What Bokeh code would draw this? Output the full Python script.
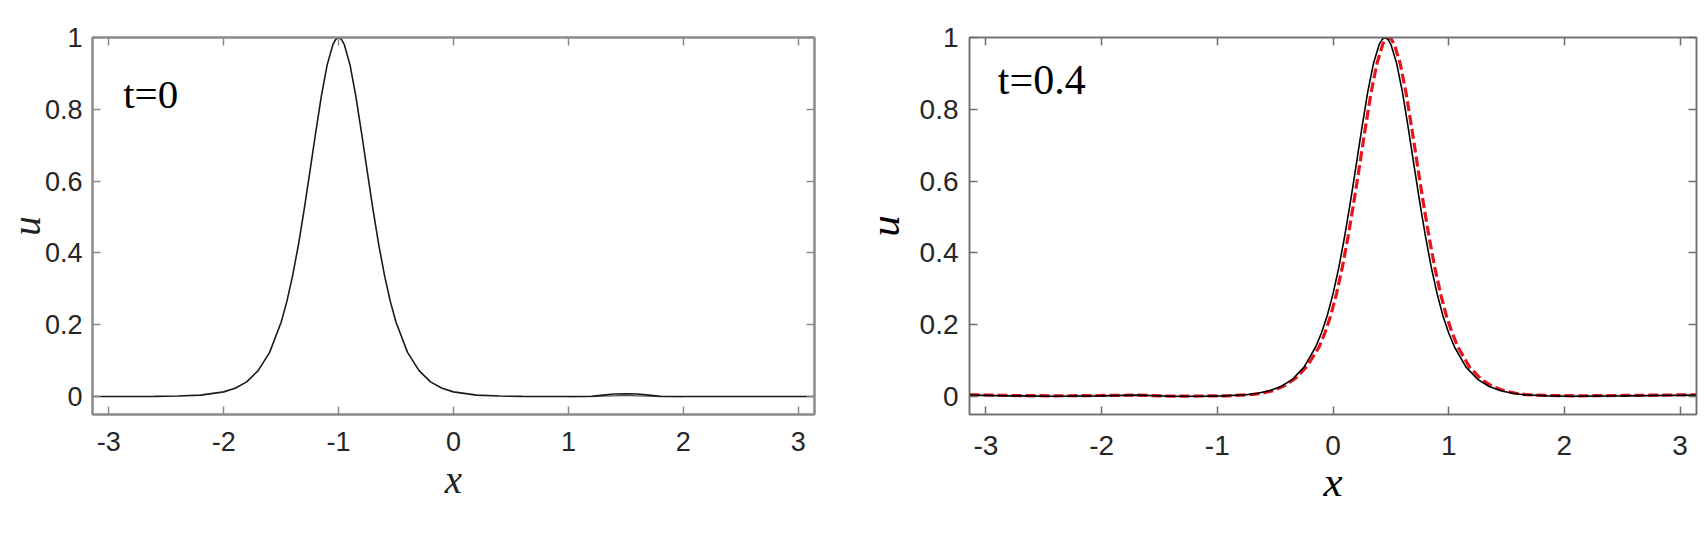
from bokeh.plotting import figure
from bokeh.models import LinearAxis, FixedTicker, Label, Range1d
from bokeh.layouts import row
from bokeh.embed import file_html
from bokeh.resources import INLINE

# ---------------- data ----------------
x_ticks = [-3, -2, -1, 0, 1, 2, 3]
x_tick_labels = ["-3", "-2", "-1", "0", "1", "2", "3"]
y_ticks = [0, 0.2, 0.4, 0.6, 0.8, 1.0]
y_tick_labels = ["0", "0.2", "0.4", "0.6", "0.8", "1"]

# left panel, t = 0
x_t0 = [-3.1416, -2.6, -2.4, -2.2, -2.0, -1.9, -1.8, -1.7, -1.6, -1.5, -1.45, -1.4,
        -1.35, -1.3, -1.25, -1.2, -1.15, -1.1, -1.05, -1.025, -1.0, -0.975, -0.95, -0.9,
        -0.85, -0.8, -0.75, -0.7, -0.65, -0.6, -0.55, -0.5, -0.4, -0.3, -0.2, -0.1, 0.0,
        0.2, 0.4, 0.6, 0.8, 1.0, 1.2, 1.3, 1.4, 1.5, 1.6, 1.7, 1.8, 2.0, 2.4, 3.1416]
u_t0 = [0.0, 0.0004, 0.0014, 0.004, 0.013, 0.023, 0.041, 0.072, 0.123, 0.207, 0.265, 0.337,
        0.422, 0.520, 0.626, 0.734, 0.837, 0.923, 0.980, 0.995, 1.0, 0.995, 0.980, 0.923,
        0.837, 0.734, 0.626, 0.520, 0.422, 0.337, 0.265, 0.207, 0.123, 0.072, 0.041, 0.023, 0.013,
        0.004, 0.0014, 0.0004, 0.0001, 0.0, 0.001, 0.004, 0.007, 0.008, 0.007, 0.004, 0.001, 0.0, 0.0, 0.0]
x_t0_b = [1.0, 1.2, 1.3, 1.4, 1.5, 1.6, 1.7, 1.8, 2.0]
u_t0_b = [0.0, 0.0, 0.001, 0.002, 0.003, 0.002, 0.001, 0.0, 0.0]

# right panel, t = 0.4 : solid black
x_t04 = [-3.1416, -2.8, -2.4, -2.0, -1.7, -1.4, -1.1, -0.95, -0.75, -0.65, -0.55, -0.45,
         -0.35, -0.25, -0.15, -0.10, -0.05, 0.0, 0.05, 0.10, 0.15, 0.20, 0.25, 0.30, 0.35,
         0.40, 0.425, 0.45, 0.475, 0.50, 0.55, 0.60, 0.65, 0.70, 0.75, 0.80, 0.85, 0.90, 0.95,
         1.00, 1.05, 1.15, 1.25, 1.35, 1.45, 1.55, 1.65, 1.85, 2.05, 2.5, 3.1416]
u_t04 = [0.004, 0.002, 0.001, 0.002, 0.004, 0.001, 0.001, 0.002, 0.005, 0.009, 0.016, 0.028,
         0.048, 0.082, 0.138, 0.177, 0.225, 0.286, 0.359, 0.445, 0.541, 0.644, 0.749, 0.848, 0.928,
         0.981, 0.995, 1.0, 0.995, 0.981, 0.928, 0.848, 0.749, 0.644, 0.541, 0.445, 0.359, 0.286, 0.225,
         0.177, 0.138, 0.082, 0.048, 0.028, 0.016, 0.009, 0.005, 0.002, 0.001, 0.002, 0.004]
# right panel, t = 0.4 : red dashed
x_t04_r = [-3.1416, -2.8, -2.4, -2.0, -1.7, -1.4, -0.92, -0.72, -0.62, -0.52, -0.42, -0.32,
           -0.22, -0.12, -0.07, -0.02, 0.03, 0.08, 0.13, 0.18, 0.23, 0.28, 0.33, 0.38, 0.43,
           0.455, 0.48, 0.505, 0.53, 0.58, 0.63, 0.68, 0.73, 0.78, 0.83, 0.88, 0.93, 0.98, 1.03,
           1.08, 1.18, 1.28, 1.38, 1.48, 1.58, 1.68, 1.88, 2.1, 2.5, 3.1416]
u_t04_r = [0.005, 0.003, 0.002, 0.003, 0.004, 0.001, 0.002, 0.005, 0.009, 0.016, 0.030, 0.052,
           0.086, 0.138, 0.177, 0.225, 0.286, 0.359, 0.445, 0.541, 0.644, 0.749, 0.848, 0.928, 0.981,
           0.995, 1.0, 0.995, 0.981, 0.928, 0.848, 0.749, 0.644, 0.541, 0.445, 0.359, 0.286, 0.225, 0.177,
           0.138, 0.082, 0.048, 0.028, 0.016, 0.009, 0.005, 0.003, 0.002, 0.003, 0.005]

TICK_FONT = "Liberation Sans"
SERIF = "Liberation Serif"


def make_fig(width, mb_left, mb_right, mb_top, mb_bottom, frame_color, frame_w,
             tick_fs, x_standoff, y_standoff, lab_fs, lab_color, xlab_standoff, ylab_standoff):
    p = figure(width=width, height=539,
               x_range=Range1d(-3.1416, 3.1416), y_range=Range1d(-0.05, 1.0),
               output_backend="svg", toolbar_location=None,
               min_border_left=mb_left, min_border_right=mb_right,
               min_border_top=mb_top, min_border_bottom=mb_bottom,
               background_fill_color="white", border_fill_color="white")
    p.xgrid.visible = False
    p.ygrid.visible = False
    p.outline_line_color = frame_color
    p.outline_line_width = frame_w
    p.outline_line_alpha = 1.0

    p.add_layout(LinearAxis(), "above")
    p.add_layout(LinearAxis(), "right")

    xt = FixedTicker(ticks=x_ticks)
    yt = FixedTicker(ticks=y_ticks)
    for ax in p.xaxis:
        ax.ticker = xt
    for ax in p.yaxis:
        ax.ticker = yt
    for ax in p.axis:
        ax.axis_line_color = frame_color
        ax.axis_line_width = frame_w
        ax.major_tick_line_color = frame_color
        ax.major_tick_line_width = 1.5
        ax.major_tick_in = 8
        ax.major_tick_out = 0
        ax.minor_tick_line_color = None
        ax.major_label_text_font = TICK_FONT
        ax.major_label_text_color = "#262626"
        ax.major_label_text_font_size = tick_fs
        ax.axis_label_text_font = SERIF
        ax.axis_label_text_font_style = "italic"
        ax.axis_label_text_font_size = lab_fs
        ax.axis_label_text_color = lab_color
    bx = p.below[0]
    bx.major_label_overrides = dict(zip(x_ticks, x_tick_labels))
    bx.major_label_standoff = x_standoff
    bx.axis_label = "x"
    bx.axis_label_standoff = xlab_standoff
    ly = p.left[0]
    ly.major_label_overrides = dict(zip(y_ticks, y_tick_labels))
    ly.major_label_standoff = y_standoff
    ly.axis_label = "u"
    ly.axis_label_standoff = ylab_standoff
    for ax in (p.above[0], p.right[0]):
        ax.major_label_text_font_size = "0px"
        ax.major_label_standoff = 0
        ax.major_label_text_color = None
    return p


# ---------- left panel ----------
p1 = make_fig(856, 92, 42, 37, 125, "#8a8a8a", 2, "27px", 17, 10,
              "39px", "#222222", 4, -6)
p1.line(x_t0_b, u_t0_b, line_color="#555555", line_width=1.2)
p1.line(x_t0, u_t0, line_color="#1a1a1a", line_width=1.6)
p1.add_layout(Label(x=-2.875, y=0.842, text="t=0", text_font=SERIF,
                    text_font_size="41px", text_color="black",
                    text_baseline="alphabetic"))

# ---------- right panel ----------
p2 = make_fig(848, 113, 8, 33, 123, "#6e6e6e", 1.5, "28px", 21, 11,
              "43px", "black", 0, 9)
p2.line(x_t04_r, u_t04_r, line_color="#e8141b", line_width=3.2, line_dash="10 4")
p2.line(x_t04, u_t04, line_color="black", line_width=1.6)
p2.add_layout(Label(x=-2.897, y=0.883, text="t=0.4", text_font=SERIF,
                    text_font_size="42px", text_color="black",
                    text_baseline="alphabetic"))

layout = row(p1, p2)
open("out.html", "w").write(file_html(layout, INLINE))
